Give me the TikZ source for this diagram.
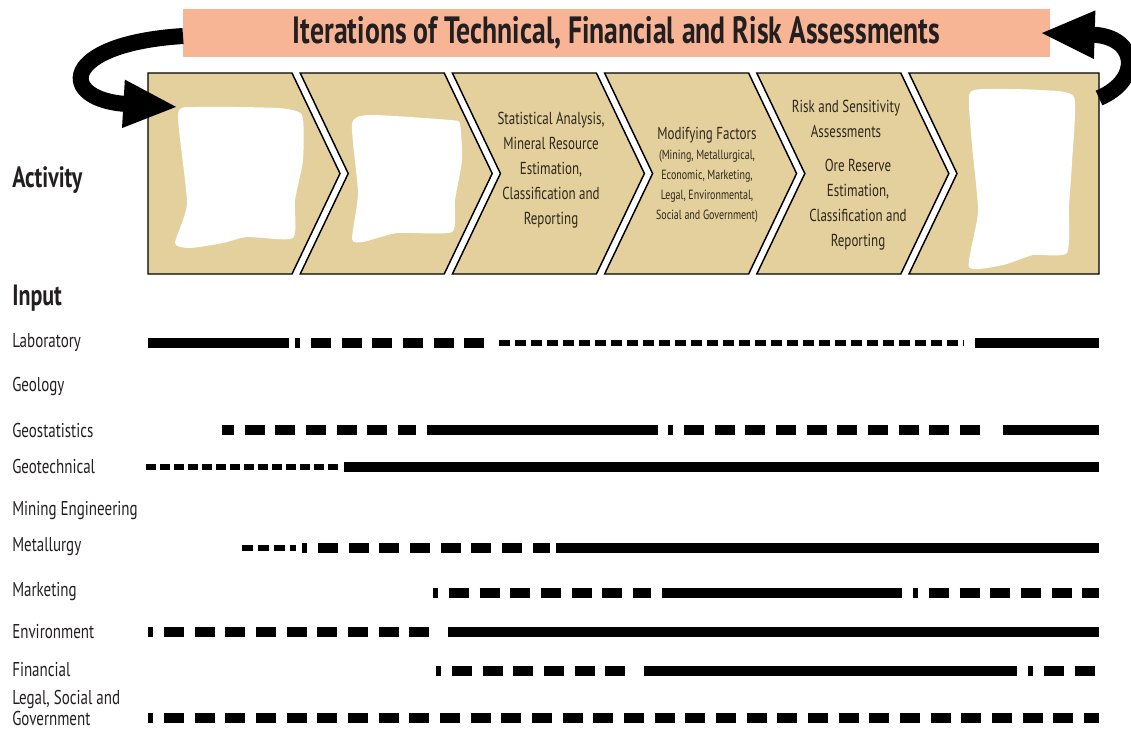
\documentclass[tikz,border=0pt]{standalone}
\usepackage{fontspec}
\setmainfont{PT Sans}[FakeStretch=0.75]
\newfontfamily\titlefont{PT Sans Bold}[FakeStretch=0.73]
\usetikzlibrary{arrows.meta}
\definecolor{bannerOrange}{HTML}{F7B595}
\definecolor{stepTan}{HTML}{E4D09C}
\definecolor{inkDark}{HTML}{231F20}
\definecolor{stepInk}{HTML}{2E271D}

\begin{document}
\begin{tikzpicture}[x=0.75pt, y=-0.75pt, text=inkDark,
  chev/.style={draw=black, line width=1.1pt, fill=stepTan, line join=miter},
  blot/.style={fill=white, draw=none},
  loopArrow/.style={line width=12pt, black, -{Triangle[length=41pt, width=33pt]}},
  steptext/.style={align=center, text=stepInk, font=\fontsize{13}{18.75}\selectfont},
  rowlabel/.style={anchor=west, inner sep=0pt, font=\fontsize{15}{16}\selectfont},
  heading/.style={anchor=west, inner sep=0pt, font=\fontsize{22}{23}\selectfont\bfseries},
  solidbar/.style={line width=8pt},
  bigdash/.style={line width=7.5pt, dash pattern=on 15pt off 8pt},
  smalldash/.style={line width=5pt, dash pattern=on 8pt off 4pt}]
\useasboundingbox (0,0) rectangle (1131,729);

% --- iteration banner ---
\node[fill=bannerOrange, minimum width=650pt, minimum height=36pt, inner sep=0pt,
  font=\titlefont\fontsize{28.5}{29}\selectfont] (banner) at (616.5,33) {Iterations of Technical, Financial and Risk Assessments};

% --- activity chevrons ---
\draw[chev] (148,73) -- (292,73) -- (340,173.5) -- (292,274) -- (148,274) -- cycle;
\foreach \i in {1,...,4} {
  \pgfmathsetmacro\xl{148+152.2*\i}
  \draw[chev] (\xl,73) -- ++(144,0) -- ++(48,100.5) -- ++(-48,100.5)
    -- ++(-144,0) -- ++(48,-100.5) -- cycle;
}
\draw[chev] (909,73) -- (1099,73) -- (1099,274) -- (909,274) -- (957,173.5) -- cycle;

% white patches over the first, second and last step
\fill[blot] plot[smooth cycle, tension=0.35] coordinates {(178,114) (197,107) (277,108) (302,115)
  (303,160) (295,200) (293,238) (247,237) (223,243) (190,248) (175,243) (187,203)};
\fill[blot] plot[smooth cycle, tension=0.35] coordinates {(352,124) (370,115) (450,120) (460,124)
  (462,160) (455,200) (452,232) (397,233) (363,242) (352,239) (358,193)};
\fill[blot] plot[smooth cycle, tension=0.35] coordinates {(969,95) (983,89) (1040,90) (1074,97)
  (1072,162) (1069,206) (1067,253) (1033,255) (1003,265) (969,267) (978,212) (972,145)};

\node[steptext] (stat) at (551,170) {Statistical Analysis,\\ Mineral Resource\\ Estimation,\\ Classification and\\ Reporting};
\node[steptext, font=\fontsize{10}{15}\selectfont] (modf) at (707,175)
  {{\fontsize{13}{15}\selectfont Modifying Factors}\\ (Mining, Metallurgical,\\ Economic, Marketing,\\ Legal, Environmental,\\ Social and Government)};
\node[steptext] (risk) at (846,119) {Risk and Sensitivity\\ Assessments};
\node[steptext] (ore) at (858,205) {Ore Reserve\\ Estimation,\\ Classification and\\ Reporting};

% --- iteration arrows ---
\draw[loopArrow] (183,36) .. controls (58,44) and (58,100) .. (178,107);
\draw[loopArrow] (1099,98) .. controls (1142,80) and (1138,36) .. (1040,33);

% --- headings and inputs ---
\node[heading] (activity) at (12,180) {Activity};
\node[heading] (input) at (12,298) {Input};

\node[rowlabel] (lab) at (12,343) {Laboratory};
\node[rowlabel] (geol) at (12,386) {Geology};
\node[rowlabel] (geostat) at (12,430) {Geostatistics};
\node[rowlabel] (geotech) at (12,466) {Geotechnical};
\node[rowlabel] (mineng) at (12,511) {Mining Engineering};
\node[rowlabel] (metal) at (12,547) {Metallurgy};
\node[rowlabel] (mkt) at (12,592) {Marketing};
\node[rowlabel] (env) at (12,632) {Environment};
\node[rowlabel] (fin) at (12,670) {Financial};
\node[rowlabel, align=left, font=\fontsize{15}{15.5}\selectfont] (legal) at (12,708) {Legal, Social and\\ Government};

% laboratory
\draw[solidbar] (148,343) -- (289,343);
\draw[bigdash, dash phase=11pt] (295,343) -- (490,343);
\draw[smalldash] (499,343) -- (964,343);
\draw[solidbar] (975,343) -- (1099,343);
% geostatistics
\draw[bigdash, dash phase=6pt] (222,430) -- (416,430);
\draw[solidbar] (427,430) -- (658,430);
\draw[bigdash, dash phase=11pt] (668,430) -- (986,430);
\draw[solidbar] (1003,430) -- (1099,430);
% geotechnical
\draw[smalldash, line width=4.5pt, dash pattern=on 7.5pt off 3pt] (146,467) -- (341,467);
\draw[solidbar] (344,467) -- (1099,467);
% metallurgy
\draw[smalldash, line width=4.5pt] (242,548) -- (296,548);
\draw[bigdash, dash phase=11pt] (302,548) -- (550,548);
\draw[solidbar] (556,548) -- (1099,548);
% marketing
\draw[bigdash, dash phase=11pt] (433,593) -- (651,593);
\draw[solidbar] (662,593) -- (902,593);
\draw[bigdash, dash phase=11pt] (913,593) -- (1099,593);
% environment
\draw[bigdash, dash phase=11pt] (148,632) -- (434,632);
\draw[solidbar] (448,632) -- (1099,632);
% financial
\draw[bigdash, dash phase=11pt] (436,671) -- (631,671);
\draw[solidbar] (644,671) -- (1017,671);
\draw[bigdash, dash phase=11pt] (1028,671) -- (1099,671);
% legal, social and government
\draw[bigdash, dash phase=11pt] (148,718) -- (1099,718);
\end{tikzpicture}
\end{document}
